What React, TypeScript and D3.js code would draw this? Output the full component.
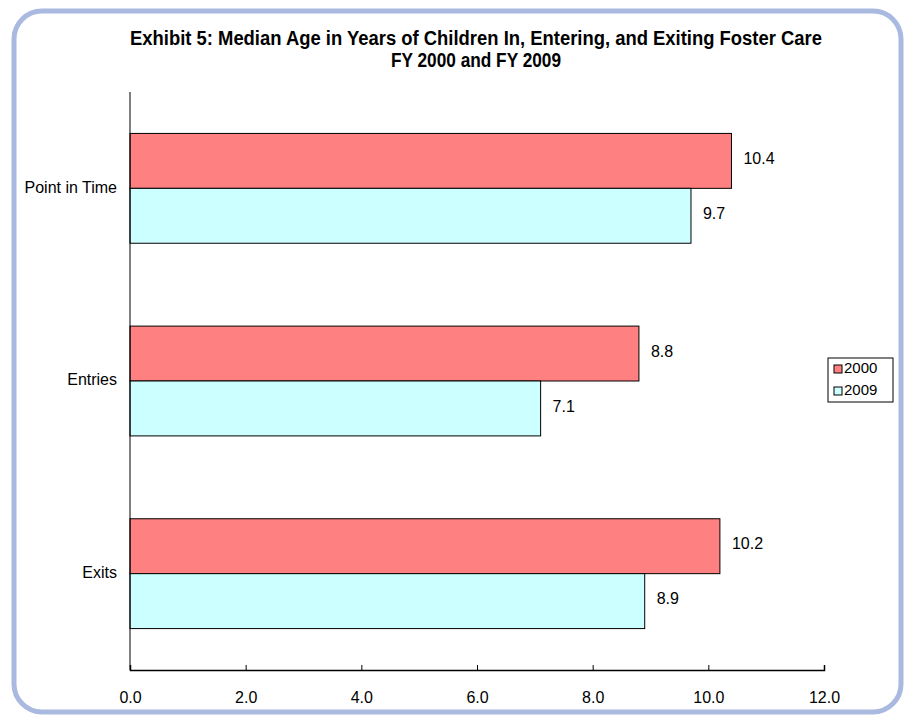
import React, { useEffect, useRef } from "react";
import * as d3 from "d3";

const categories = ["Point in Time", "Entries", "Exits"];
const seriesNames = ["2000", "2009"];
const values2000 = [10.4, 8.8, 10.2];
const values2009 = [9.7, 7.1, 8.9];
const xTicks = [0, 2, 4, 6, 8, 10, 12];
const colors = ["#ff8080", "#ccffff"];
const titleLines = [
  "Exhibit 5: Median Age in Years of Children In, Entering, and Exiting Foster Care",
  "FY 2000 and FY 2009",
];
const titleWidths = [692, 170];

const W = 907;
const H = 715;
const FONT = "'Liberation Sans Narrow', 'Arial Narrow', 'Liberation Sans', Arial, sans-serif";

export default function App() {
  const ref = useRef<SVGSVGElement | null>(null);

  useEffect(() => {
    const svg = d3.select(ref.current);
    svg.selectAll("*").remove();

    // Outer rounded frame
    svg
      .append("rect")
      .attr("x", 14)
      .attr("y", 11)
      .attr("width", 887)
      .attr("height", 701)
      .attr("rx", 28)
      .attr("ry", 28)
      .attr("fill", "#ffffff")
      .attr("stroke", "#aab9df")
      .attr("stroke-width", 5);

    // Title
    svg
      .append("g")
      .selectAll("text")
      .data(titleLines)
      .join("text")
      .attr("x", 476)
      .attr("y", (_d, i) => 45 + i * 22)
      .attr("text-anchor", "middle")
      .attr("font-family", FONT)
      .attr("font-weight", "bold")
      .attr("font-size", 20)
      .attr("textLength", (_d, i) => titleWidths[i])
      .attr("lengthAdjust", "spacingAndGlyphs")
      .attr("fill", "#000")
      .text((d) => d);

    const left = 130;
    const right = 824;
    const top = 92;
    const bottom = 670;

    const x = d3.scaleLinear().domain([0, 12]).range([left, right]);
    const y = d3.scaleBand().domain(categories).range([top, bottom]).paddingInner(0.43).paddingOuter(0.215);
    const ySub = d3.scaleBand().domain(seriesNames).range([0, y.bandwidth()]);

    const data = categories.map((c, i) => ({
      cat: c,
      vals: [
        { s: seriesNames[0], v: values2000[i] },
        { s: seriesNames[1], v: values2009[i] },
      ],
    }));

    const groups = svg
      .append("g")
      .selectAll("g")
      .data(data)
      .join("g")
      .attr("transform", (d) => `translate(0,${y(d.cat)})`);

    groups
      .selectAll("rect")
      .data((d) => d.vals)
      .join("rect")
      .attr("x", x(0))
      .attr("y", (d) => ySub(d.s)!)
      .attr("width", (d) => x(d.v) - x(0))
      .attr("height", ySub.bandwidth())
      .attr("fill", (_d, i) => colors[i])
      .attr("stroke", "#000")
      .attr("stroke-width", 1);

    groups
      .selectAll("text")
      .data((d) => d.vals)
      .join("text")
      .attr("x", (d) => x(d.v) + 12)
      .attr("y", (d) => ySub(d.s)! + ySub.bandwidth() / 2 - 1)
      .attr("dominant-baseline", "middle")
      .attr("font-family", FONT)
      .attr("font-size", 16)
      .attr("fill", "#000")
      .text((d) => d.v.toFixed(1));

    // Y axis
    svg
      .append("line")
      .attr("x1", left)
      .attr("x2", left)
      .attr("y1", top)
      .attr("y2", bottom)
      .attr("stroke", "#000")
      .attr("stroke-width", 1);

    svg
      .append("g")
      .selectAll("text")
      .data(categories)
      .join("text")
      .attr("x", left - 13)
      .attr("y", (d) => y(d)! + y.bandwidth() / 2)
      .attr("text-anchor", "end")
      .attr("dominant-baseline", "middle")
      .attr("font-family", FONT)
      .attr("font-size", 16)
      .attr("fill", "#000")
      .text((d) => d);

    // X axis
    const xAxis = d3
      .axisBottom(x)
      .tickValues(xTicks)
      .tickSize(-5)
      .tickPadding(22)
      .tickFormat((d) => d3.format(".1f")(d as number));
    const gx = svg.append("g").attr("transform", `translate(0,${bottom})`).call(xAxis);
    gx.select(".domain").attr("stroke", "#000").attr("stroke-width", 1.5);
    gx.selectAll(".tick line").attr("stroke", "#000");
    gx.selectAll(".tick text")
      .attr("font-family", FONT)
      .attr("font-size", 16)
      .attr("fill", "#000");

    // Legend
    const lg = svg.append("g").attr("transform", "translate(828,358)");
    lg.append("rect")
      .attr("x", 0)
      .attr("y", 0)
      .attr("width", 65)
      .attr("height", 44)
      .attr("fill", "#fff")
      .attr("stroke", "#000")
      .attr("stroke-width", 1);
    const items = lg
      .selectAll("g.item")
      .data(seriesNames)
      .join("g")
      .attr("class", "item")
      .attr("transform", (_d, i) => `translate(0,${11 + i * 22})`);
    items
      .append("rect")
      .attr("x", 6)
      .attr("y", -4)
      .attr("width", 8)
      .attr("height", 8)
      .attr("fill", (_d, i) => colors[i])
      .attr("stroke", "#000")
      .attr("stroke-width", 1);
    items
      .append("text")
      .attr("x", 16)
      .attr("y", 0)
      .attr("dominant-baseline", "middle")
      .attr("font-family", FONT)
      .attr("font-size", 15)
      .attr("fill", "#000")
      .text((d) => d);
  }, []);

  return (
    <svg
      ref={ref}
      width={W}
      height={H}
      style={{ position: "absolute", left: 0, top: 0, background: "#fff" }}
    />
  );
}
